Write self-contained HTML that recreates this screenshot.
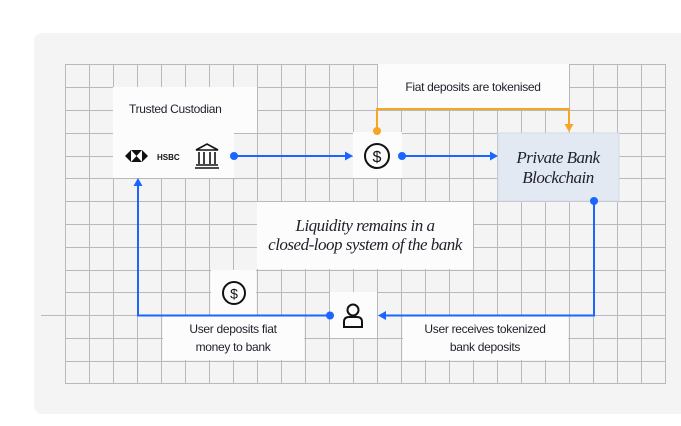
<!DOCTYPE html>
<html><head><meta charset="utf-8"><style>
html,body{margin:0;padding:0;background:#fff;width:681px;height:426px;overflow:hidden}
svg{display:block}
.s{font-family:"Liberation Sans",sans-serif;font-size:12px;fill:#1f1f2a;letter-spacing:-0.3px}
.i{font-family:"Liberation Serif",serif;font-style:italic;font-size:17px;fill:#1f1f2a;letter-spacing:-0.5px}
</style></head><body>
<svg width="681" height="426" viewBox="0 0 681 426" xmlns="http://www.w3.org/2000/svg">
<rect x="34" y="33" width="660" height="381" rx="8" fill="#f4f4f4"/>
<g stroke="#b9b9bd" stroke-width="1" fill="none">
<path d="M65.5 64V383 M89.5 64V383 M113.5 64V383 M137.5 64V383 M161.5 64V383 M185.5 64V383 M209.5 64V383 M233.5 64V383 M257.5 64V383 M281.5 64V383 M305.5 64V383 M329.5 64V383 M353.5 64V383 M377.5 64V383 M401.5 64V383 M425.5 64V383 M449.5 64V383 M473.5 64V383 M497.5 64V383 M521.5 64V383 M545.5 64V383 M569.5 64V383 M593.5 64V383 M617.5 64V383 M641.5 64V383 M665.5 64V383"/>
<path d="M65 64.5H666 M65 87.5H666 M65 110.5H666 M65 133.5H666 M65 156.5H666 M65 178.5H666 M65 201.5H666 M65 224.5H666 M65 247.5H666 M65 270.5H666 M65 292.5H666 M41 315.5H666 M65 338.5H666 M65 361.5H666 M65 383.5H666"/>
</g>
<!-- white boxes -->
<g fill="#fcfcfc">
<rect x="113" y="87" width="144" height="46"/>
<rect x="113" y="132" width="121" height="46"/>
<rect x="353" y="132" width="49" height="46"/>
<rect x="378" y="64" width="191" height="45"/>
<rect x="257" y="202" width="216" height="67"/>
<rect x="211" y="270" width="45" height="45"/>
<rect x="330" y="292" width="47" height="46"/>
<rect x="163" y="316" width="141" height="44"/>
<rect x="403" y="316" width="165" height="44"/>
</g>
<rect x="498" y="133" width="121" height="68" fill="#e3e9f3" stroke="#d5dbe6"/>
<!-- texts -->
<text class="s" x="129" y="113">Trusted Custodian</text>
<text class="s" x="473" y="91" text-anchor="middle">Fiat deposits are tokenised</text>
<text class="i" x="558" y="163" text-anchor="middle">Private Bank</text>
<text class="i" x="558" y="183" text-anchor="middle">Blockchain</text>
<text class="i" x="365" y="231" text-anchor="middle">Liquidity remains in a</text>
<text class="i" x="365" y="250" text-anchor="middle">closed-loop system of the bank</text>
<text class="s" x="233" y="333" text-anchor="middle">User deposits fiat</text>
<text class="s" x="233" y="351" text-anchor="middle">money to bank</text>
<text class="s" x="485" y="333" text-anchor="middle">User receives tokenized</text>
<text class="s" x="485" y="351" text-anchor="middle">bank deposits</text>
<!-- HSBC logo -->
<g fill="#111">
<polygon points="125,156 131,150 131,162"/>
<polygon points="148,156 142,150 142,162"/>
<polygon points="131,150 142,150 136.5,156"/>
<polygon points="131,162 142,162 136.5,156"/>
</g>
<text x="157" y="160" font-family="Liberation Sans,sans-serif" font-weight="bold" font-size="8" fill="#111">HSBC</text>
<!-- bank icon -->
<g fill="none" stroke="#111" stroke-width="1.6">
<path d="M196 150 L207 144 L218 150 Z"/>
<path d="M199 152V164 M204 152V164 M210 152V164 M215 152V164"/>
<path d="M196 165H218 M195 168H219"/>
</g>
<!-- dollar icons -->
<g fill="none" stroke="#111" stroke-width="2">
<circle cx="377" cy="156" r="12"/>
<circle cx="234" cy="293" r="11"/>
</g>
<text x="377" y="162" text-anchor="middle" font-family="Liberation Sans,sans-serif" font-size="16" fill="#111">$</text>
<text x="234" y="298.5" text-anchor="middle" font-family="Liberation Sans,sans-serif" font-size="14" fill="#111">$</text>
<!-- user icon -->
<g fill="none" stroke="#111" stroke-width="2">
<circle cx="353" cy="310" r="5.5"/>
<path d="M344 327 V322 Q344 317 349 317 H357 Q362 317 362 322 V327 Z"/>
</g>
<!-- connectors -->
<g stroke="#1a66ff" stroke-width="2" fill="none">
<path d="M234 156H346"/>
<path d="M402 156H491"/>
<path d="M594 201V315.5H384"/>
<path d="M330 315.5H138V184"/>
</g>
<g fill="#1a66ff">
<circle cx="234" cy="156" r="4"/>
<polygon points="353,156 345,151.5 345,160.5"/>
<circle cx="402" cy="156" r="4"/>
<polygon points="498,156 490,151.5 490,160.5"/>
<circle cx="594" cy="201" r="4"/>
<polygon points="378,315.5 386,311 386,320"/>
<circle cx="330" cy="315.5" r="4"/>
<polygon points="138,178 133.5,186 142.5,186"/>
</g>
<g stroke="#f5a623" stroke-width="2" fill="none">
<path d="M377 131V109H569V125"/>
</g>
<g fill="#f5a623">
<circle cx="377" cy="131" r="4"/>
<polygon points="569,132 564.5,124 573.5,124"/>
</g>
</svg>
</body></html>
